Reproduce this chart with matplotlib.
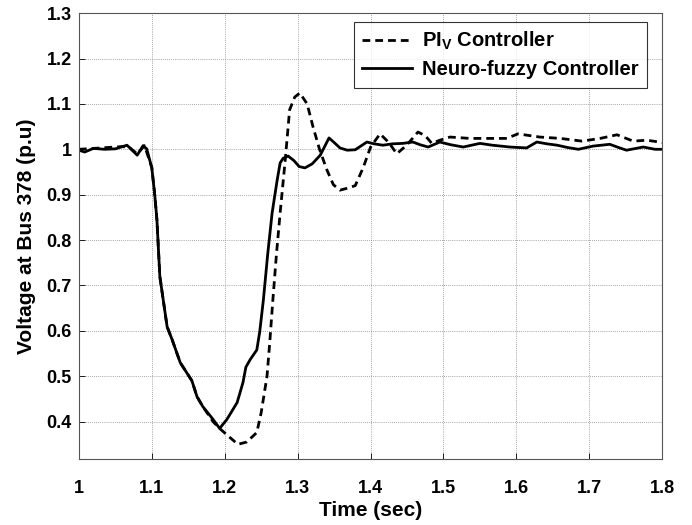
import matplotlib
matplotlib.use("Agg")
import matplotlib.pyplot as plt
import matplotlib.ticker as mtick

plt.rcParams.update({
    "font.family": ["Liberation Sans", "DejaVu Sans"],
    "font.weight": "bold",
    "mathtext.fontset": "custom",
    "mathtext.rm": "Liberation Sans:bold",
    "mathtext.it": "Liberation Sans:bold",
    "mathtext.bf": "Liberation Sans:bold",
})

# Neuro-fuzzy controller (solid)
t_nf = [1.0, 1.008, 1.02, 1.035, 1.05, 1.066, 1.08, 1.088, 1.093, 1.1, 1.104,
        1.107, 1.111, 1.121, 1.128, 1.139, 1.147, 1.155, 1.162, 1.170, 1.184,
        1.193, 1.203, 1.217, 1.225, 1.229, 1.235, 1.244, 1.248, 1.253, 1.259,
        1.265, 1.272, 1.276, 1.280, 1.287, 1.295, 1.302, 1.31, 1.32, 1.331,
        1.343, 1.35, 1.358, 1.368, 1.379, 1.395, 1.405, 1.417, 1.43, 1.444,
        1.458, 1.468, 1.479, 1.495, 1.51, 1.527, 1.55, 1.567, 1.591, 1.614,
        1.628, 1.642, 1.656, 1.67, 1.685, 1.705, 1.728, 1.74, 1.751, 1.774,
        1.79, 1.80]
v_nf = [0.998, 0.994, 1.002, 1.0, 1.001, 1.009, 0.987, 1.008, 1.001, 0.959, 0.90,
        0.845, 0.72, 0.609, 0.58, 0.53, 0.51, 0.49, 0.455, 0.433, 0.405,
        0.385, 0.405, 0.442, 0.486, 0.52, 0.537, 0.558, 0.598, 0.668, 0.77,
        0.86, 0.933, 0.97, 0.98, 0.985, 0.975, 0.962, 0.959, 0.968, 0.987,
        1.025, 1.015, 1.003, 0.998, 0.999, 1.016, 1.012, 1.009, 1.012, 1.013,
        1.016, 1.01, 1.005, 1.016, 1.01, 1.005, 1.013, 1.009, 1.005, 1.003,
        1.016, 1.012, 1.009, 1.004, 1.0, 1.007, 1.011, 1.004, 0.998, 1.005,
        1.0, 1.0]

# PI_V controller (dashed)
t_pi = [1.0, 1.02, 1.04, 1.06, 1.07, 1.08, 1.09, 1.1, 1.104, 1.107, 1.111,
        1.121, 1.128, 1.139, 1.147, 1.155, 1.162, 1.170, 1.184, 1.193, 1.205,
        1.218, 1.23, 1.244, 1.25, 1.258, 1.262, 1.266, 1.271, 1.276, 1.283,
        1.289, 1.296, 1.303, 1.313, 1.321, 1.33, 1.34, 1.349, 1.358, 1.37,
        1.379, 1.39, 1.40, 1.413, 1.425, 1.436, 1.45, 1.465, 1.475, 1.484,
        1.495, 1.509, 1.536, 1.568, 1.587, 1.602, 1.632, 1.66, 1.69, 1.715,
        1.738, 1.76, 1.779, 1.80]
v_pi = [1.0, 1.002, 1.004, 1.006, 1.003, 0.99, 1.008, 0.96, 0.90,
        0.845, 0.72, 0.609, 0.58, 0.53, 0.51, 0.49, 0.455, 0.433, 0.40, 0.385, 0.368,
        0.35, 0.355, 0.376, 0.42, 0.50, 0.58, 0.668, 0.77, 0.86, 0.977,
        1.087, 1.115, 1.124, 1.10, 1.05, 1.0, 0.955, 0.922, 0.91, 0.915,
        0.92, 0.96, 1.005, 1.034, 1.015, 0.99, 1.01, 1.038, 1.03, 1.013,
        1.02, 1.027, 1.024, 1.024, 1.024, 1.034, 1.027, 1.024, 1.018, 1.024,
        1.032, 1.018, 1.02, 1.015]

x_ticks = [1.0, 1.1, 1.2, 1.3, 1.4, 1.5, 1.6, 1.7, 1.8]
y_ticks = [0.4, 0.5, 0.6, 0.7, 0.8, 0.9, 1.0, 1.1, 1.2, 1.3]

fig = plt.figure(figsize=(6.92, 5.25), dpi=100)
ax = fig.add_axes([0.114, 0.126, 0.843, 0.849])

ax.plot(t_pi, v_pi, color="black", linewidth=2.0, linestyle=(0, (2.8, 1.8)),
        label="PI$_V$ Controller")
ax.plot(t_nf, v_nf, color="black", linewidth=2.0, label="Neuro-fuzzy Controller")

ax.set_xlim(1.0, 1.8)
ax.set_ylim(0.318, 1.3)
ax.set_xticks(x_ticks)
ax.set_yticks(y_ticks)
fmt = mtick.FuncFormatter(lambda v, _: f"{v:g}")
ax.xaxis.set_major_formatter(fmt)
ax.yaxis.set_major_formatter(fmt)
ax.tick_params(labelsize=13, length=4, width=0.6, direction="in")
ax.tick_params(axis="x", pad=15)
ax.tick_params(axis="y", pad=5)
ax.grid(True, color="#888888", linestyle=(0, (1, 1.5)), linewidth=0.6)
for sp in ax.spines.values():
    sp.set_linewidth(0.8)
    sp.set_color("#555555")

ax.set_xlabel("Time (sec)", fontsize=15, fontweight="bold", labelpad=3)
ax.set_ylabel("Voltage at Bus 378 (p.u)", fontsize=15, fontweight="bold", labelpad=8)

leg = ax.legend(loc="upper right", bbox_to_anchor=(0.974, 0.98), fontsize=14.5,
                frameon=True, fancybox=False, edgecolor="black",
                handlelength=2.5, handletextpad=0.5, borderaxespad=0.0,
                labelspacing=0.4, borderpad=0.4)
leg.get_frame().set_linewidth(0.8)

fig.savefig("out.png", dpi=100)
